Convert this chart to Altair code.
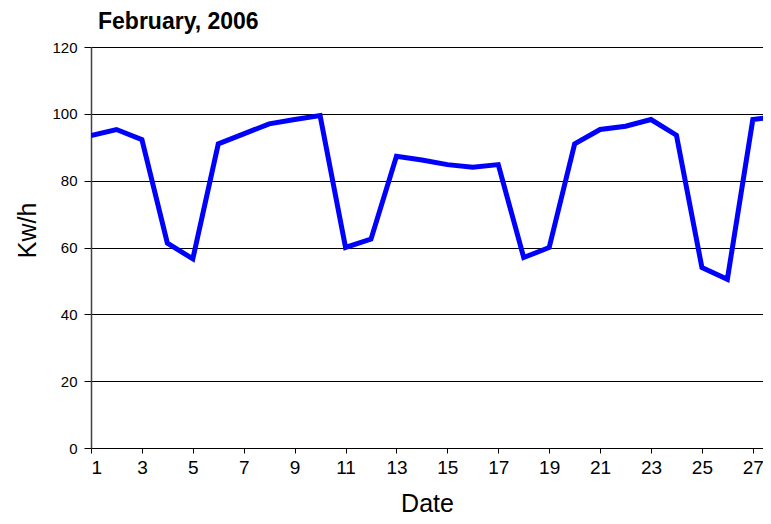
import altair as alt
import pandas as pd

days = list(range(1, 29))
kwh = [93.5, 95.3, 92.3, 61.3, 56.6, 91.0, 94.0, 97.0, 98.3, 99.5,
       60.0, 62.5, 87.3, 86.2, 84.8, 84.0, 84.8, 57.0, 60.0, 91.0,
       95.3, 96.3, 98.3, 93.6, 54.0, 50.5, 98.3, 99.3]
x_ticks = list(range(1, 28, 2))
y_ticks = [0, 20, 40, 60, 80, 100, 120]

df = pd.DataFrame({"Date": days, "Kwh": kwh})
FONT = "Liberation Sans"
NARROW = "Liberation Sans Narrow, Liberation Sans"

line = alt.Chart(df).mark_line(color="#0000FF", strokeWidth=5, clip=True).encode(
    x=alt.X("Date:Q", scale=alt.Scale(domain=[1, 27.40], nice=False, zero=False),
            axis=alt.Axis(values=x_ticks, grid=False, tickSize=5, tickColor="black",
                          domainColor="black", domainWidth=1, labelPadding=5,
                          labelFont=NARROW, labelFontSize=19, labelColor="black",
                          title="Date", titleFont=FONT, titleFontSize=25,
                          titleFontWeight="normal", titleColor="black", titlePadding=14)),
    y=alt.Y("Kwh:Q", scale=alt.Scale(domain=[0, 120], nice=False),
            axis=alt.Axis(values=y_ticks, grid=True, gridColor="black", gridWidth=1,
                          gridOpacity=1, tickSize=7, tickColor="black",
                          domainColor="#404040", domainWidth=1.5, labelPadding=7,
                          labelFont=FONT, labelFontSize=15, labelColor="black",
                          title="Kw/h", titleFont=FONT, titleFontSize=25,
                          titleFontWeight="normal", titleColor="black", titlePadding=11,
                          titleY=183)),
)

chart = line.properties(
    width=672,
    height=401,
    title=alt.TitleParams(text="February, 2006", anchor="start", frame="group",
                          fontSize=23, fontWeight="bold", font=FONT, color="black",
                          dx=7, offset=6),
    autosize=alt.AutoSizeParams(type="none"),
    padding={"left": 83, "top": 39, "right": 0, "bottom": 68},
).configure_view(stroke=None)

chart.save("out.html", embed_options={"renderer": "svg", "actions": False})
